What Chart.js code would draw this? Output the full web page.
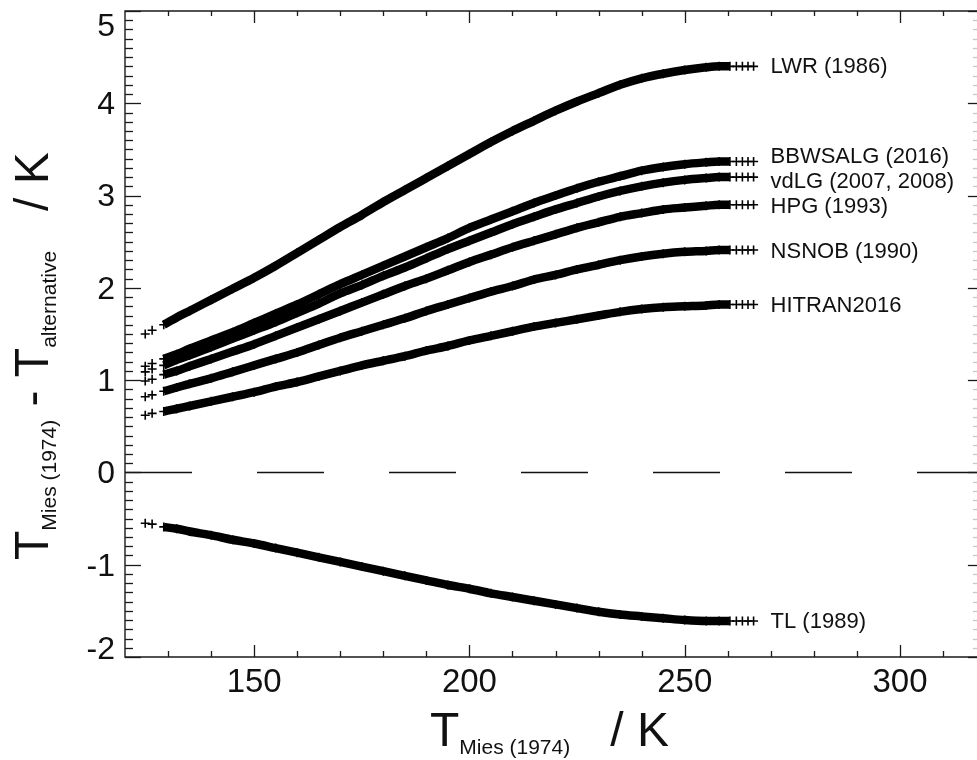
<!DOCTYPE html>
<html>
<head>
<meta charset="utf-8">
<script src="https://cdn.jsdelivr.net/npm/chart.js@4.4.1/dist/chart.umd.min.js"></script>
<style>
  html, body { margin: 0; padding: 0; background: #fff; overflow: hidden; }
  #wrap { width: 984px; height: 760px; }
  canvas { display: block; }
</style>
</head>
<body>
<div id="wrap"><canvas id="miesChart" width="984" height="760" style="width:984px;height:760px"></canvas></div>
<script>
// T_Mies(1974) in K, shared by every series (first two and last four are lone markers)
const temps = [124.7, 126.3, 129, 132, 135, 140, 145, 150, 155, 160, 165, 170, 175, 180, 185, 190,
  195, 200, 205, 210, 215, 220, 225, 230, 235, 240, 245, 250, 255, 258, 260.5, 262.0, 263.4, 264.7, 266.0];

const lwr = [1.50, 1.54, 1.60, 1.68, 1.75, 1.87, 1.99, 2.11, 2.24, 2.38, 2.52, 2.66, 2.79, 2.93, 3.06, 3.19,
  3.32, 3.45, 3.58, 3.70, 3.81, 3.92, 4.02, 4.11, 4.20, 4.27, 4.32, 4.36, 4.39, 4.40, 4.40, 4.40, 4.40, 4.40, 4.40];
const bbwsalg = [1.15, 1.18, 1.23, 1.28, 1.34, 1.43, 1.52, 1.62, 1.72, 1.82, 1.93, 2.04, 2.14, 2.24, 2.34, 2.44,
  2.54, 2.65, 2.74, 2.83, 2.92, 3.00, 3.08, 3.15, 3.21, 3.27, 3.31, 3.34, 3.36, 3.37, 3.37, 3.37, 3.37, 3.37, 3.37];
const vdlg = [1.09, 1.12, 1.16, 1.22, 1.27, 1.36, 1.45, 1.54, 1.63, 1.73, 1.83, 1.94, 2.03, 2.13, 2.22, 2.32,
  2.42, 2.51, 2.60, 2.69, 2.77, 2.85, 2.92, 2.99, 3.05, 3.10, 3.14, 3.17, 3.19, 3.20, 3.20, 3.20, 3.20, 3.20, 3.20];
const hpg = [0.99, 1.01, 1.06, 1.10, 1.15, 1.23, 1.31, 1.39, 1.48, 1.57, 1.66, 1.75, 1.84, 1.93, 2.02, 2.10,
  2.19, 2.28, 2.36, 2.44, 2.51, 2.58, 2.65, 2.71, 2.77, 2.81, 2.85, 2.87, 2.89, 2.90, 2.90, 2.90, 2.90, 2.90, 2.90];
const nsnob = [0.82, 0.84, 0.88, 0.92, 0.96, 1.02, 1.09, 1.16, 1.23, 1.30, 1.38, 1.46, 1.53, 1.60, 1.67, 1.75,
  1.82, 1.89, 1.96, 2.02, 2.09, 2.14, 2.20, 2.25, 2.30, 2.34, 2.37, 2.39, 2.40, 2.41, 2.41, 2.41, 2.41, 2.41, 2.41];
const hitran = [0.62, 0.64, 0.66, 0.69, 0.72, 0.77, 0.82, 0.87, 0.93, 0.98, 1.04, 1.10, 1.16, 1.21, 1.26, 1.32,
  1.37, 1.43, 1.48, 1.53, 1.58, 1.62, 1.66, 1.70, 1.74, 1.77, 1.79, 1.80, 1.81, 1.82, 1.82, 1.82, 1.82, 1.82, 1.82];
const tl = [-0.55, -0.56, -0.59, -0.61, -0.64, -0.68, -0.73, -0.77, -0.82, -0.87, -0.92, -0.97, -1.02, -1.07, -1.12, -1.17,
  -1.22, -1.26, -1.31, -1.35, -1.39, -1.43, -1.47, -1.51, -1.54, -1.56, -1.58, -1.60, -1.61, -1.61, -1.61, -1.61, -1.61, -1.61, -1.61];

const seriesNames = ["LWR (1986)", "BBWSALG (2016)", "vdLG (2007, 2008)", "HPG (1993)", "NSNOB (1990)", "HITRAN2016", "TL (1989)"];
const seriesValues = [lwr, bbwsalg, vdlg, hpg, nsnob, hitran, tl];

const xRange = [120, 318.1];
const yRange = [-2, 5];
const xTicks = [150, 200, 250, 300];
const yTicks = [-2, -1, 0, 1, 2, 3, 4, 5];

const FONT = "'Liberation Sans', Arial, sans-serif";
const lineStart = 2;   // markers before this index stand alone
const lineEnd = 30;    // markers after this index stand alone

function makeSet(vals, name) {
  return {
    label: name,
    data: temps.map((t, i) => ({ x: t, y: vals[i] })),
    borderColor: "#000",
    backgroundColor: "#000",
    borderWidth: 8.5,
    pointStyle: "cross",
    pointRadius: 4.5,
    pointBorderWidth: 1.6,
    pointBorderColor: "#000",
    cubicInterpolationMode: "monotone",
    segment: {
      borderColor: (c) => (c.p0DataIndex < lineStart || c.p0DataIndex >= lineEnd ? "rgba(0,0,0,0)" : "#000"),
    },
  };
}

let datasets = seriesValues.map((v, i) => makeSet(v, seriesNames[i]));
datasets.push({
  label: "zero",
  data: [{ x: xRange[0], y: 0 }, { x: xRange[1], y: 0 }],
  borderColor: "#111",
  borderWidth: 1.5,
  borderDash: [67, 65],
  pointRadius: 0,
});

// draws a run of text pieces, subscripts shifted down
function drawRich(ctx, parts, x, y) {
  let cx = x;
  parts.forEach((p) => {
    ctx.font = p.size + "px " + FONT;
    ctx.fillText(p.t, cx, y + p.dy);
    cx += ctx.measureText(p.t).width;
  });
}

const xTitle = [
  { t: "T", size: 48, dy: 0 },
  { t: "Mies (1974)", size: 21, dy: 8 },
  { t: "   / K", size: 48, dy: 0 },
];
const yTitle = [
  { t: "T", size: 48, dy: 0 },
  { t: "Mies (1974)", size: 21, dy: 8 },
  { t: " - ", size: 48, dy: 0 },
  { t: "T", size: 48, dy: 0 },
  { t: "alternative", size: 21, dy: 8 },
  { t: "   / K", size: 48, dy: 0 },
];

const framePlugin = {
  id: "frame",
  afterDraw(chart) {
    const { ctx, chartArea: a } = chart;
    const x = chart.scales.x, y = chart.scales.y;
    ctx.save();
    ctx.strokeStyle = "#1a1a1a";
    ctx.lineWidth = 1.4;
    ctx.beginPath();
    ctx.moveTo(a.right, a.top);
    ctx.lineTo(a.left, a.top);
    ctx.lineTo(a.left, a.bottom);
    ctx.lineTo(a.right, a.bottom);
    ctx.stroke();

    // y minor/major ticks, left and right
    for (let i = yRange[0] * 10; i <= yRange[1] * 10; i++) {
      const py = Math.round(y.getPixelForValue(i / 10)) + 0.5;
      const major = i % 10 === 0;
      ctx.strokeStyle = "#1a1a1a";
      ctx.lineWidth = 1.3;
      ctx.beginPath();
      ctx.moveTo(a.left, py);
      ctx.lineTo(a.left + (major ? 16 : 8), py);
      ctx.stroke();
      ctx.strokeStyle = major ? "#1a1a1a" : "#c8c8c8";
      ctx.beginPath();
      ctx.moveTo(a.right, py);
      ctx.lineTo(a.right - (major ? 10 : 5), py);
      ctx.stroke();
    }
    // x ticks, bottom and top
    ctx.strokeStyle = "#1a1a1a";
    for (let t = 130; t <= xRange[1]; t += 10) {
      const px = Math.round(x.getPixelForValue(t)) + 0.5;
      const major = t % 50 === 0;
      ctx.beginPath();
      ctx.moveTo(px, a.bottom);
      ctx.lineTo(px, a.bottom - (major ? 12 : 6));
      ctx.moveTo(px, a.top);
      ctx.lineTo(px, a.top + (major ? 12 : 5));
      ctx.stroke();
    }

    // y tick labels, kept inside the axis span like the original
    ctx.fillStyle = "#111";
    ctx.font = "32px " + FONT;
    ctx.textAlign = "right";
    ctx.textBaseline = "middle";
    yTicks.forEach((v) => {
      const py = Math.min(Math.max(y.getPixelForValue(v) + 2, a.top + 16), a.bottom - 7);
      ctx.fillText(String(v), a.left - 10, py);
    });

    // series names at the end of each curve
    ctx.font = "22px " + FONT;
    ctx.textAlign = "left";
    const nudge = [1, -4, 5, 2, 2, 1, 1];
    seriesValues.forEach((vals, i) => {
      const px = x.getPixelForValue(temps[temps.length - 1]) + 17;
      const py = y.getPixelForValue(vals[vals.length - 1]) + nudge[i];
      ctx.fillText(seriesNames[i], px, py);
    });

    // axis titles
    ctx.textBaseline = "alphabetic";
    drawRich(ctx, xTitle, 430, 746);
    ctx.translate(48, 560);
    ctx.rotate(-Math.PI / 2);
    drawRich(ctx, yTitle, 0, 0);
    ctx.restore();
  },
};

new Chart(document.getElementById("miesChart"), {
  type: "line",
  data: { datasets: datasets },
  options: {
    responsive: false,
    animation: false,
    events: [],
    layout: { padding: { top: 11, right: 0, left: 0, bottom: 0 } },
    plugins: { legend: { display: false }, tooltip: { enabled: false } },
    scales: {
      x: {
        type: "linear",
        min: xRange[0],
        max: xRange[1],
        afterFit: (s) => { s.height = 103; s.paddingLeft = 0; s.paddingRight = 0; },
        afterBuildTicks: (s) => { s.ticks = xTicks.map((v) => ({ value: v })); },
        grid: { display: false, drawTicks: false },
        border: { display: false },
        ticks: { font: { size: 33, family: FONT }, color: "#111", padding: 6, maxRotation: 0, autoSkip: false },
      },
      y: {
        type: "linear",
        min: yRange[0],
        max: yRange[1],
        afterFit: (s) => { s.width = 125; s.paddingTop = 0; s.paddingBottom = 0; },
        afterBuildTicks: (s) => { s.ticks = yTicks.map((v) => ({ value: v })); },
        grid: { display: false, drawTicks: false },
        border: { display: false },
        ticks: { display: false },
      },
    },
  },
  plugins: [framePlugin],
});
</script>
</body>
</html>
